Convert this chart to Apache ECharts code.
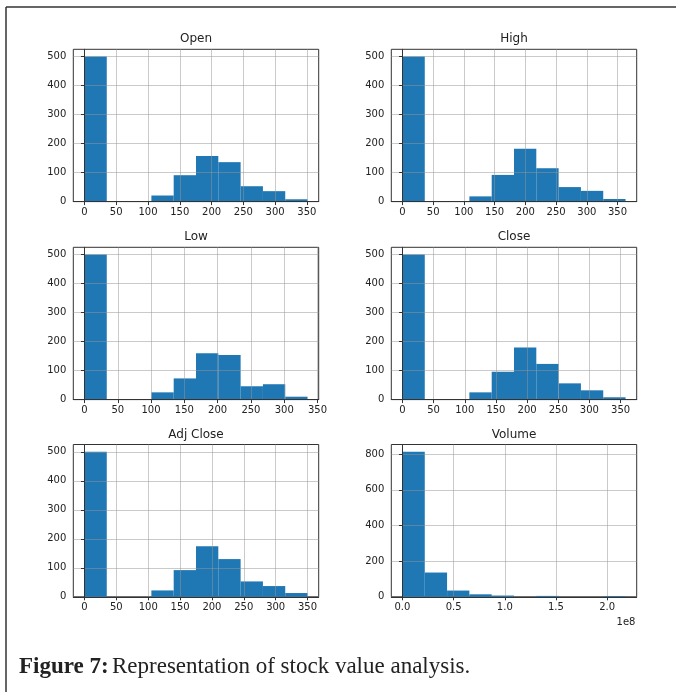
<!DOCTYPE html>
<html>
<head>
<meta charset="utf-8">
<script src="https://cdn.jsdelivr.net/npm/echarts@6/dist/echarts.min.js"></script>
<style>
html,body{margin:0;padding:0;background:#fff;}
#chart{width:676px;height:692px;}
</style>
</head>
<body>
<div id="chart"></div>
<script>
// ---- data ----
const titles = ['Open', 'High', 'Low', 'Close', 'Adj Close', 'Volume'];

const openEdges = [0, 35.1, 70.2, 105.3, 140.4, 175.5, 210.6, 245.7, 280.8, 315.9, 351];
const openCounts = [500, 0, 0, 21, 91, 157, 136, 53, 36, 8];

const highEdges = [0, 36.3, 72.6, 108.9, 145.2, 181.5, 217.8, 254.1, 290.4, 326.7, 363];
const highCounts = [500, 0, 0, 18, 92, 182, 115, 50, 37, 9];

const lowEdges = [0, 33.5, 67, 100.5, 134, 167.5, 201, 234.5, 268, 301.5, 335];
const lowCounts = [500, 0, 0, 25, 73, 160, 154, 46, 53, 10];

const closeEdges = [0, 35.8, 71.6, 107.4, 143.2, 179, 214.8, 250.6, 286.4, 322.2, 358];
const closeCounts = [500, 0, 0, 25, 96, 180, 123, 56, 32, 8];

const adjEdges = [0, 35, 70, 105, 140, 175, 210, 245, 280, 315, 350];
const adjCounts = [500, 0, 0, 22, 92, 174, 130, 53, 37, 13];

// volume edges in units of 1e8
const volEdges = [0, 0.218, 0.436, 0.654, 0.872, 1.09, 1.308, 1.526, 1.744, 1.962, 2.18];
const volCounts = [813, 136, 35, 14, 7, 0, 5, 0, 0, 4];

const priceXTicks = [0, 50, 100, 150, 200, 250, 300, 350];
const priceYTicks = [0, 100, 200, 300, 400, 500];
const volXTicks = [0, 0.5, 1.0, 1.5, 2.0];
const volYTicks = [0, 200, 400, 600, 800];

// ---- layout ----
const allEdges = [openEdges, highEdges, lowEdges, closeEdges, adjEdges, volEdges];
const allCounts = [openCounts, highCounts, lowCounts, closeCounts, adjCounts, volCounts];
const colLeft = [73.3, 391.3];
const rowTop = [49.3, 247.3, 444.5];
const gw = 245.4, gh = 152.3;
const blue = '#1f77b4';
const gridColor = 'rgba(150,150,150,0.5)';
const frameColor = '#333333';
const textColor = '#222222';

const grids = [], xAxes = [], yAxes = [], series = [], graphics = [];

for (let i = 0; i < 6; i++) {
  const col = i % 2, row = Math.floor(i / 2);
  const edges = allEdges[i], counts = allCounts[i];
  const lo = edges[0], hi = edges[edges.length - 1];
  const m = 0.05 * (hi - lo);
  const ymax = Math.max.apply(null, counts) * 1.05;
  const isVol = i === 5;
  grids.push({
    left: colLeft[col], top: rowTop[row], width: gw, height: gh,
    show: true, borderColor: frameColor, borderWidth: 1, backgroundColor: '#fff',
    containLabel: false
  });
  const xt = isVol ? volXTicks : priceXTicks;
  const yt = isVol ? volYTicks : priceYTicks;
  xAxes.push({
    type: 'value', gridIndex: i, min: lo - m, max: hi + m, z: 5,
    axisLine: { show: true, onZero: false, lineStyle: { color: frameColor, width: 1 } },
    axisTick: { show: true, length: 3.5, lineStyle: { color: frameColor }, customValues: xt },
    axisLabel: {
      customValues: xt, margin: 6, fontSize: 10, color: textColor, fontFamily: 'DejaVu Sans',
      formatter: v => isVol ? v.toFixed(1) : String(v)
    },
    splitLine: { show: true, lineStyle: { color: gridColor, width: 1 } }
  });
  yAxes.push({
    type: 'value', gridIndex: i, min: 0, max: ymax, z: 5,
    axisLine: { show: true, lineStyle: { color: frameColor, width: 1 } },
    axisTick: { show: true, length: 3.5, lineStyle: { color: frameColor }, customValues: yt },
    axisLabel: { customValues: yt, margin: 7, fontSize: 10, color: textColor, fontFamily: 'DejaVu Sans' },
    splitLine: { show: true, lineStyle: { color: gridColor, width: 1 } }
  });
  const data = [];
  for (let k = 0; k < counts.length; k++) data.push([edges[k], edges[k + 1], counts[k]]);
  series.push({
    type: 'custom', xAxisIndex: i, yAxisIndex: i, z: 2,
    data: data,
    encode: { x: [0, 1], y: 2 },
    renderItem: function (params, api) {
      const x0 = api.value(0), x1 = api.value(1), c = api.value(2);
      if (!c) return null;
      const p0 = api.coord([x0, c]);
      const p1 = api.coord([x1, 0]);
      return {
        type: 'rect',
        shape: { x: p0[0], y: p0[1], width: p1[0] - p0[0], height: p1[1] - p0[1] },
        style: { fill: blue }
      };
    }
  });
  graphics.push({
    type: 'text',
    x: colLeft[col] + gw / 2, y: rowTop[row] - 10,
    style: { text: titles[i], fontSize: 12, fontFamily: 'DejaVu Sans', fill: '#222', align: 'center', verticalAlign: 'middle' }
  });
}

graphics.push({
  type: 'text', x: 626, y: 622,
  style: { text: '1e8', fontSize: 10, fontFamily: 'DejaVu Sans', fill: textColor, align: 'center', verticalAlign: 'middle' }
});
// frame lines
graphics.push({ type: 'line', shape: { x1: 6, y1: 7, x2: 676, y2: 7 }, style: { stroke: '#333', lineWidth: 1.5 } });
graphics.push({ type: 'line', shape: { x1: 6, y1: 7, x2: 6, y2: 692 }, style: { stroke: '#333', lineWidth: 1.5 } });
// caption
graphics.push({
  type: 'text', x: 19, y: 667,
  style: {
    text: '{b|Figure 7:} {n|Representation of stock value analysis.}',
    verticalAlign: 'middle', align: 'left',
    rich: {
      b: { fontFamily: 'Liberation Serif', fontWeight: 'bold', fontSize: 23, fill: '#222' },
      n: { fontFamily: 'Liberation Serif', fontSize: 23, fill: '#222' }
    }
  }
});

const chart = echarts.init(document.getElementById('chart'), null, { renderer: 'canvas' });
chart.setOption({
  backgroundColor: '#fff',
  animation: false,
  grid: grids,
  xAxis: xAxes,
  yAxis: yAxes,
  series: series,
  graphic: graphics
});
</script>
</body>
</html>
